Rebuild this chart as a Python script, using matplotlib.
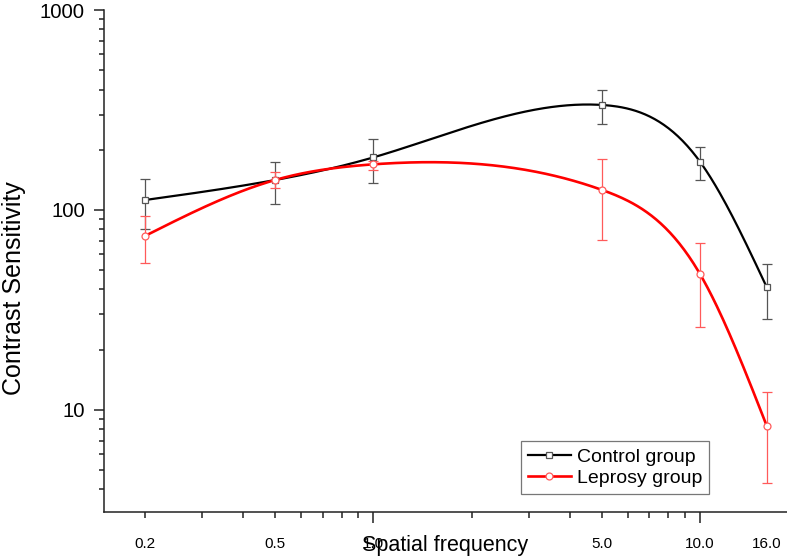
import numpy as np
import matplotlib
matplotlib.use("Agg")
import matplotlib.pyplot as plt
from matplotlib.ticker import NullFormatter, FixedLocator

plt.rcParams['font.family'] = ['Liberation Sans', 'DejaVu Sans']

# ---- data ----
freq = [0.2, 0.5, 1.0, 5.0, 10.0, 16.0]
control = [112, 141, 183, 335, 174, 41]
control_hi = [143, 173, 225, 397, 206, 53.5]
control_lo = [80, 107, 136, 270, 141, 28.4]
leprosy = [74, 141, 169, 126, 47.7, 8.3]
leprosy_hi = [93, 154, 176, 180, 68.6, 12.3]
leprosy_lo = [54, 129, 158, 71, 26, 4.3]
xtick_labels = ["0.2", "0.5", "1.0", "5.0", "10.0", "16.0"]
ytick_vals = [10, 100, 1000]
ytick_labels = ["10", "100", "1000"]


def natural_spline(xk, yk, xs):
    xk = np.asarray(xk, float); yk = np.asarray(yk, float)
    n = len(xk)
    h = np.diff(xk)
    A = np.zeros((n, n)); b = np.zeros(n)
    A[0, 0] = 1; A[-1, -1] = 1
    for i in range(1, n - 1):
        A[i, i - 1] = h[i - 1]
        A[i, i] = 2 * (h[i - 1] + h[i])
        A[i, i + 1] = h[i]
        b[i] = 6 * ((yk[i + 1] - yk[i]) / h[i] - (yk[i] - yk[i - 1]) / h[i - 1])
    M = np.linalg.solve(A, b)
    out = np.empty_like(xs)
    for j, x in enumerate(xs):
        i = min(max(np.searchsorted(xk, x) - 1, 0), n - 2)
        t1 = xk[i + 1] - x; t0 = x - xk[i]
        out[j] = (M[i] * t1 ** 3 + M[i + 1] * t0 ** 3) / (6 * h[i]) \
            + (yk[i] / h[i] - M[i] * h[i] / 6) * t1 \
            + (yk[i + 1] / h[i] - M[i + 1] * h[i] / 6) * t0
    return out


fig = plt.figure(figsize=(7.87, 5.6), dpi=100)
ax = fig.add_axes([104 / 787, 1 - 512 / 560, 683 / 787, 502 / 560])

lx = np.log10(freq)
xs = np.linspace(lx[0], lx[-1], 400)

def draw(vals, lo, hi, color, ecolor, marker, ms, lw, label):
    ys = natural_spline(lx, np.log10(vals), xs)
    vals = np.asarray(vals); lo = np.asarray(lo); hi = np.asarray(hi)
    ax.errorbar(freq, vals, yerr=[vals - lo, hi - vals], fmt='none',
                ecolor=ecolor, elinewidth=0.9, capsize=3.8, capthick=0.9, zorder=2)
    ax.plot(10 ** xs, 10 ** ys, color=color, lw=lw, zorder=3)
    ax.plot(freq, vals, linestyle='none', marker=marker, ms=ms, mfc='white',
            mec=ecolor, mew=0.9, zorder=4)
    return ax.plot([], [], color=color, lw=lw, marker=marker, ms=ms, mfc='white',
                   mec=ecolor, mew=0.9, label=label)[0]

h1 = draw(control, control_lo, control_hi, 'black', '#555555', 's', 4.2, 1.6, 'Control group')
h2 = draw(leprosy, leprosy_lo, leprosy_hi, '#ff0000', '#ff5a5a', 'o', 5.0, 1.9, 'Leprosy group')

ax.set_xscale('log'); ax.set_yscale('log')
ax.set_xlim(0.15, 18.45)
ax.set_ylim(3.08, 1000)

for s in ['top', 'right']:
    ax.spines[s].set_visible(False)
for s in ['left', 'bottom']:
    ax.spines[s].set_linewidth(1.1)
    ax.spines[s].set_color('#222222')

# x ticks
ax.xaxis.set_major_locator(FixedLocator([1.0, 10.0]))
ax.set_xticklabels([xtick_labels[2], xtick_labels[4]])
minor_x = [0.2, 0.3, 0.4, 0.5, 0.6, 0.7, 0.8, 0.9, 2, 3, 4, 5, 6, 7, 8, 9, 16]
ax.xaxis.set_minor_locator(FixedLocator(minor_x))
mlabels = [''] * len(minor_x)
mlabels[0] = xtick_labels[0]; mlabels[3] = xtick_labels[1]
mlabels[11] = xtick_labels[3]; mlabels[-1] = xtick_labels[5]
ax.set_xticklabels(mlabels, minor=True)
ax.tick_params(axis='x', which='major', length=8, width=1.1, pad=10, labelsize=11, color='#222222')
ax.tick_params(axis='x', which='minor', length=4.3, width=1.1, pad=13.6, labelsize=11, color='#222222')
ax.xaxis.get_minor_ticks()[-1].tick1line.set_visible(False)

# y ticks
ax.set_yticks(ytick_vals)
ax.set_yticklabels(ytick_labels)
ax.yaxis.set_minor_formatter(NullFormatter())
ax.tick_params(axis='y', which='major', length=7.2, width=1.1, pad=6.5, labelsize=14.6, color='#222222')
ax.tick_params(axis='y', which='minor', length=3.6, width=1.1, color='#222222')

ax.set_xlabel('Spatial frequency', fontsize=15.5)
ax.xaxis.set_label_coords(0.5, -0.066)
ax.xaxis.label.set_va('center')
ax.set_ylabel('Contrast Sensitivity', fontsize=18)
ax.yaxis.set_label_coords(-0.1142, 0.446)

leg = ax.legend(handles=[h1, h2], loc='lower right', bbox_to_anchor=(0.886, 0.036),
                borderaxespad=0, fontsize=14, frameon=True, fancybox=False,
                handlelength=2.2, handletextpad=0.32, labelspacing=0.2,
                borderpad=0.35)
leg.get_frame().set_edgecolor('#555555')
leg.get_frame().set_linewidth(0.9)

fig.savefig('out.png', dpi=100)
